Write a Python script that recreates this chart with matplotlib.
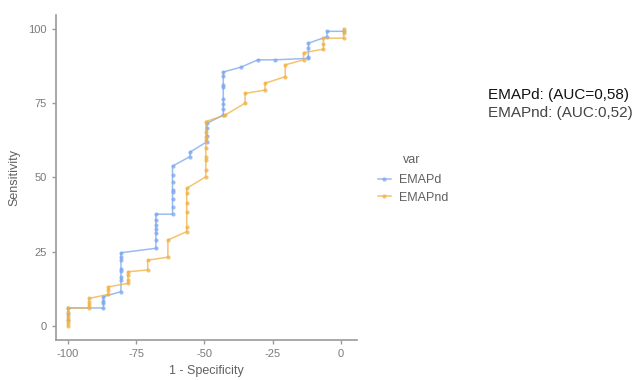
import matplotlib
matplotlib.use("Agg")
import matplotlib.pyplot as plt

plt.rcParams['font.family'] = ['Liberation Sans', 'DejaVu Sans']

# ROC curve points (x = 1 - Specificity, y = Sensitivity)
emapd_x = [-100, -100, -100,
           -87, -87, -87, -87,
           -80.6, -80.6, -80.6, -80.6, -80.6, -80.6, -80.6, -80.6,
           -67.8, -67.8, -67.8, -67.8, -67.8, -67.8, -67.8,
           -61.7, -61.7, -61.7, -61.7, -61.7, -61.7, -61.7, -61.7,
           -55.3, -55.3,
           -49.1, -49.1, -49.1, -49.1,
           -43.1, -43.1, -43.1, -43.1, -43.1, -43.1, -43.1, -43.1,
           -36.7, -30.4, -24.1,
           -11.9, -11.9, -11.9, -11.9,
           -5.1, -5.1, 1]
emapd_y = [2, 4, 6,
           6, 7.5, 8.5, 9.8,
           11.5, 15.4, 16.5, 18.3, 19, 22, 23.2, 24.6,
           26.1, 28.8, 31.1, 32.7, 34, 35.5, 37.6,
           37.6, 40, 42.8, 45, 45.6, 48.4, 50.7, 53.8,
           57, 58.5,
           62, 64.1, 66.5, 68.2,
           71, 73, 74.8, 76.5, 80.4, 81, 84.3, 85.5,
           87.1, 89.6, 89.6,
           90.1, 90.7, 93.5, 95.2,
           97.4, 99.2, 99.2]

emapnd_x = [-100, -100, -100, -100, -100, -100,
            -92.3, -92.3, -92.3, -92.3,
            -85.2, -85.2, -85.2,
            -78, -78, -78, -78,
            -70.8, -70.8,
            -63.4, -63.4,
            -56.5, -56.5, -56.5, -56.5, -56.5, -56.5,
            -49.5, -49.5, -49.5, -49.5, -49.5, -49.5, -49.5, -49.5, -49.5,
            -42.4,
            -35.1, -35.1,
            -27.8, -27.8,
            -20.4, -20.4,
            -13.7, -13.7,
            -6.4, -6.4, -6.4,
            1, 1, 1]
emapnd_y = [0, 1, 2, 3, 4.5, 6,
            6, 7, 8, 9.2,
            10.6, 12, 13.1,
            14.3, 15.5, 17, 18.2,
            18.8, 22.1,
            23.1, 28.9,
            31.7, 33.4, 38.4, 41.3, 44.6, 46.3,
            50.2, 52.5, 55.8, 57, 59.8, 62.6, 63.7, 65.4, 68.8,
            71,
            75, 78.3,
            79.4, 81.7,
            83.9, 87.9,
            89.6, 92,
            93.2, 95, 96.9,
            96.9, 98.5, 100]

series_names = ["EMAPd", "EMAPnd"]
auc_labels = ["EMAPd: (AUC=0,58)", "EMAPnd: (AUC:0,52)"]
xticks = [-100, -75, -50, -25, 0]
xtick_labels = ["-100", "-75", "-50", "-25", "0"]
yticks = [0, 25, 50, 75, 100]
ytick_labels = ["0", "25", "50", "75", "100"]

blue = '#7aa6ee'
orange = '#f0b040'
axis_grey = '#9a9a9a'
text_grey = '#7a7a7a'

fig = plt.figure(figsize=(6.4, 3.8), dpi=100)
ax = fig.add_axes([56 / 640, 1 - 340 / 380, (357 - 56) / 640, (340 - 15) / 380])

for xs, ys, col, name in [(emapd_x, emapd_y, blue, series_names[0]),
                          (emapnd_x, emapnd_y, orange, series_names[1])]:
    ax.plot(xs, ys, color=col, lw=1.1, alpha=0.75, marker='o', markersize=3,
            markeredgewidth=0, label=name)

ax.set_xlim(-104.4, 5.9)
ax.set_ylim(-4.8, 104.7)
ax.set_xticks(xticks, labels=xtick_labels)
ax.set_yticks(yticks, labels=ytick_labels)

for side in ['top', 'right']:
    ax.spines[side].set_visible(False)
for side in ['left', 'bottom']:
    ax.spines[side].set_color(axis_grey)
    ax.spines[side].set_linewidth(1.2)
ax.tick_params(colors=axis_grey, labelcolor=text_grey, labelsize=8, length=3, width=1)

ax.set_xlabel("1 - Specificity", fontsize=9, color='#606060', labelpad=4)
ax.set_ylabel("Sensitivity", fontsize=9, color='#606060', labelpad=6)

# legend title drawn separately so the gap to the entries matches
fig.text(403 / 640, 1 - 160 / 380, "var", fontsize=9, color='#606060',
         ha='left', va='center')
leg = fig.legend(loc='upper left', bbox_to_anchor=(378 / 640, 1 - 174 / 380),
                 frameon=False, fontsize=9,
                 handlelength=1.0, handletextpad=0.65, labelspacing=0.45,
                 borderpad=0, borderaxespad=0)
for t in leg.get_texts():
    t.set_color('#606060')

fig.text(488 / 640, 1 - 95 / 380, auc_labels[0], fontsize=11, color='#111111',
         ha='left', va='center')
fig.text(488 / 640, 1 - 113 / 380, auc_labels[1], fontsize=11, color='#444444',
         ha='left', va='center')

fig.savefig("out.png", dpi=100)
